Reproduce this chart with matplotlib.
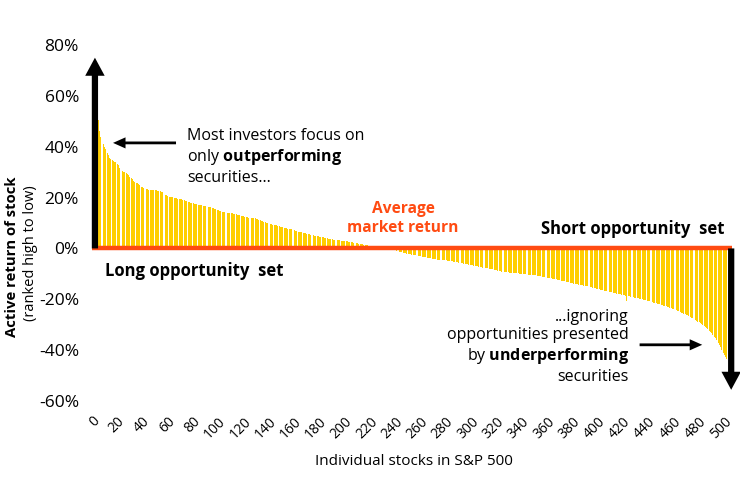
import matplotlib
matplotlib.use("Agg")
import matplotlib.pyplot as plt
from matplotlib.transforms import ScaledTranslation

plt.rcParams['font.family'] = ['Open Sans', 'DejaVu Sans']
plt.rcParams['mathtext.fontset'] = 'custom'
plt.rcParams['mathtext.rm'] = 'Open Sans'
plt.rcParams['mathtext.bf'] = 'Open Sans:bold'

# active return (%) of each S&P 500 stock, ranked high to low
returns_1_100 = [
    64.0, 50.5, 46.0, 44.0, 42.0, 41.0, 40.0, 39.0, 37.5, 36.7,
    35.5, 35.0, 34.7, 34.4, 34.1, 33.8, 33.3, 32.8, 31.8, 31.0,
    30.6, 30.2, 29.9, 29.6, 29.3, 28.8, 28.2, 27.8, 27.2, 26.7,
    26.2, 25.9, 25.7, 25.4, 24.8, 24.3, 24.0, 23.7, 23.4, 23.3,
    23.2, 23.1, 23.1, 23.0, 23.0, 22.9, 22.9, 22.8, 22.6, 22.4,
    22.5, 22.2, 22.0, 21.6, 21.2, 20.9, 20.6, 20.4, 20.3, 20.2,
    20.1, 20.0, 19.9, 19.8, 19.6, 19.5, 19.4, 19.3, 19.1, 19.0,
    18.8, 18.6, 18.3, 18.1, 17.9, 17.8, 17.7, 17.6, 17.5, 17.4,
    17.2, 17.1, 17.0, 16.9, 16.8, 16.7, 16.6, 16.5, 16.4, 16.3,
    16.2, 16.0, 15.8, 15.6, 15.4, 15.2, 15.0, 14.8, 14.6, 14.4,
]
returns_101_200 = [
    14.3, 14.2, 14.1, 14.0, 13.9, 13.9, 13.8, 13.8, 13.7, 13.6,
    13.5, 13.3, 13.2, 13.0, 12.9, 12.7, 12.6, 12.4, 12.3, 12.2,
    12.1, 12.0, 12.0, 11.9, 11.9, 11.8, 11.6, 11.4, 11.2, 11.0,
    10.8, 10.7, 10.5, 10.3, 10.1, 10.0, 9.8, 9.7, 9.5, 9.4,
    9.3, 9.2, 9.2, 9.0, 8.8, 8.6, 8.4, 8.3, 8.1, 8.0,
    7.9, 7.8, 7.7, 7.6, 7.5, 7.3, 7.1, 7.0, 6.8, 6.6,
    6.5, 6.4, 6.3, 6.2, 6.0, 5.9, 5.8, 5.7, 5.5, 5.4,
    5.3, 5.2, 5.0, 4.9, 4.8, 4.7, 4.6, 4.5, 4.4, 4.3,
    4.2, 4.1, 4.0, 3.9, 3.8, 3.7, 3.6, 3.5, 3.4, 3.3,
    3.3, 3.2, 3.2, 3.1, 3.1, 3.0, 3.0, 2.9, 2.8, 2.7,
]
returns_201_300 = [
    2.6, 2.5, 2.4, 2.3, 2.2, 2.1, 2.0, 1.9, 1.8, 1.7,
    1.6, 1.5, 1.4, 1.3, 1.2, 1.1, 1.0, 0.9, 0.8, 0.7,
    0.6, 0.5, 0.45, 0.4, 0.35, 0.3, 0.25, 0.2, 0.15, 0.1,
    0.05, 0.0, -0.1, -0.2, -0.3, -0.5, -0.7, -0.9, -1.1, -1.3,
    -1.5, -1.6, -1.7, -1.8, -1.9, -2.0, -2.1, -2.2, -2.3, -2.4,
    -2.5, -2.6, -2.7, -2.8, -2.9, -3.0, -3.1, -3.2, -3.3, -3.4,
    -3.5, -3.6, -3.7, -3.8, -3.9, -4.0, -4.1, -4.2, -4.3, -4.4,
    -4.5, -4.5, -4.6, -4.6, -4.7, -4.7, -4.7, -4.8, -4.8, -4.9,
    -5.0, -5.1, -5.2, -5.3, -5.4, -5.5, -5.6, -5.7, -5.8, -5.9,
    -6.0, -6.1, -6.2, -6.3, -6.4, -6.5, -6.6, -6.7, -6.8, -6.9,
]
returns_301_400 = [
    -7.0, -7.1, -7.2, -7.3, -7.4, -7.5, -7.6, -7.7, -7.8, -7.8,
    -7.9, -8.0, -8.0, -8.1, -8.3, -8.5, -8.6, -8.8, -8.9, -9.0,
    -9.1, -9.2, -9.3, -9.3, -9.4, -9.4, -9.5, -9.5, -9.6, -9.6,
    -9.7, -9.7, -9.8, -9.8, -9.9, -10.0, -10.0, -10.1, -10.2, -10.2,
    -10.3, -10.3, -10.4, -10.4, -10.5, -10.5, -10.6, -10.6, -10.7, -10.8,
    -10.9, -11.0, -11.1, -11.2, -11.3, -11.4, -11.5, -11.6, -11.7, -11.8,
    -11.9, -12.0, -12.1, -12.2, -12.3, -12.5, -12.6, -12.7, -12.8, -12.9,
    -13.0, -13.1, -13.2, -13.3, -13.4, -13.5, -13.7, -13.8, -13.9, -14.0,
    -14.1, -14.2, -14.3, -14.4, -14.5, -14.6, -14.7, -14.8, -14.9, -15.0,
    -15.1, -15.3, -15.4, -15.5, -15.7, -15.8, -15.9, -16.0, -16.2, -16.3,
]
returns_401_500 = [
    -16.5, -16.6, -16.8, -16.9, -17.0, -17.1, -17.2, -17.3, -17.4, -17.5,
    -17.7, -17.8, -17.9, -18.0, -18.1, -18.3, -18.4, -18.5, -18.6, -20.8,
    -18.8, -18.9, -19.0, -19.1, -19.2, -19.3, -19.4, -19.5, -19.6, -19.7,
    -19.8, -20.0, -20.1, -20.2, -20.4, -20.5, -20.7, -20.8, -21.0, -21.1,
    -21.3, -21.4, -21.6, -21.7, -21.9, -22.0, -22.2, -22.3, -22.5, -22.7,
    -22.8, -23.0, -23.2, -23.4, -23.6, -23.8, -24.0, -24.2, -24.4, -24.6,
    -24.8, -25.0, -25.2, -25.4, -25.6, -25.8, -26.0, -26.3, -26.6, -26.9,
    -27.2, -27.5, -27.8, -28.1, -28.5, -28.8, -29.1, -29.4, -29.7, -30.1,
    -30.5, -30.9, -31.3, -31.8, -32.3, -32.8, -33.4, -34.0, -34.7, -35.4,
    -36.2, -37.0, -37.9, -38.8, -40.0, -41.0, -42.0, -42.8, -43.3, -43.6,
]
returns = returns_1_100 + returns_101_200 + returns_201_300 + returns_301_400 + returns_401_500
ranks = list(range(1, len(returns) + 1))

x_ticks = list(range(0, 501, 20))
y_ticks = [-60, -40, -20, 0, 20, 40, 60, 80]

YELLOW = "#FFCE00"
ORANGE = "#FF4B12"

fig = plt.figure(figsize=(7.4, 4.93), dpi=100)
ax = fig.add_axes([90 / 740, 92 / 493, 647 / 740, 356 / 493])

ax.bar(ranks, returns, width=0.75, color=YELLOW, linewidth=0)
ax.plot([-3, 503], [0, 0], color=ORANGE, lw=3.2, solid_capstyle="butt", zorder=3)

ax.set_xlim(-4.5, 507)
ax.set_ylim(-60, 80)
ax.set_xticks(x_ticks)
ax.set_xticklabels([])
# rotated x labels, nudged left/down like the original
offset = ScaledTranslation(-4 / 100, -13 / 100, fig.dpi_scale_trans)
for t in x_ticks:
    ax.text(t, 0, str(t), transform=ax.get_xaxis_transform() + offset,
            rotation=45, ha="right", va="top", rotation_mode="anchor", fontsize=10)
ax.set_yticks(y_ticks)
ax.set_yticklabels([f"{t}%" for t in y_ticks], fontsize=12.5)
ax.tick_params(length=0, pad=8)
for s in ax.spines.values():
    s.set_visible(False)

ax.set_xlabel("Individual stocks in S&P 500", fontsize=11, labelpad=30)
fig.text(12 / 740, 0.48, "Active return of stock", rotation=90, fontsize=10.7,
         fontweight="bold", ha="center", va="center")
fig.text(31 / 740, 0.487, "(ranked high to low)", rotation=90, fontsize=10.5,
         ha="center", va="center")

# big arrows for long / short sets
big = dict(facecolor="black", edgecolor="none", width=4.5, headwidth=14,
           headlength=13, shrink=0)
ax.annotate("", xy=(-0.6, 75), xytext=(-0.6, 0), arrowprops=big, zorder=4)
ax.annotate("", xy=(502.4, -55.6), xytext=(502.4, 0), arrowprops=big, zorder=4)

small = dict(facecolor="black", edgecolor="none", width=2, headwidth=8,
             headlength=9, shrink=0)
ax.annotate("", xy=(13.7, 41.5), xytext=(63.5, 41.5), arrowprops=small)
ax.annotate("", xy=(479.5, -37.9), xytext=(430, -37.9), arrowprops=small)

ax.text(72, 47.5, "Most investors focus on\nonly $\\bf{outperforming}$\nsecurities...",
        fontsize=11.5, ha="left", va="top", linespacing=1.25)
ax.text(421.5, -23.8, "...ignoring\nopportunities presented\nby $\\bf{underperforming}$\nsecurities",
        fontsize=11.5, ha="right", va="top", linespacing=1.2)

ax.text(243, 11.8, "Average\nmarket return", color=ORANGE, fontsize=11.2,
        fontweight="bold", ha="center", va="center", linespacing=1.2)
ax.text(497, 7.7, "Short opportunity  set", fontsize=12, fontweight="bold",
        ha="right", va="center")
ax.text(7, -8.8, "Long opportunity  set", fontsize=12, fontweight="bold",
        ha="left", va="center")

fig.savefig("out.png", dpi=100)
